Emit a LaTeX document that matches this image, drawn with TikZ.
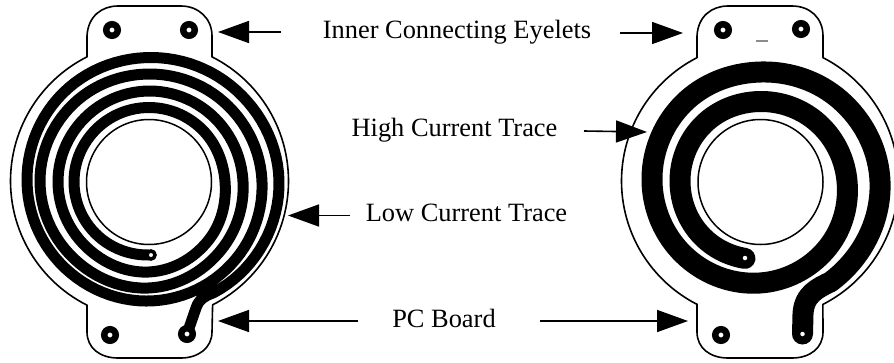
\documentclass[tikz,border=0pt]{standalone}
\usepackage{fontspec}
\setmainfont{Liberation Serif}
\usetikzlibrary{arrows.meta}
\def\ltab{{73,74,75,75,74,73.5,74,76,84,91,91,91,90,90,91,94,100,107,108,109,108,107,109,113,117,120,121,122,123,123.5,126,130,130,126.5,125}}
\def\rtab{{78,78.5,80,80,80,79.5,82,87,95,102,106,108,109,109,114,120,122.5,125,125}}
\tikzset{
  declare function={
    crom(\a,\b,\c,\d,\f)=0.5*(2*\b+(\c-\a)*\f+(2*\a-5*\b+4*\c-\d)*\f*\f+(3*\b-\a-3*\c+\d)*\f*\f*\f);
    fr(\t)=(\t-90)/45-floor((\t-90)/45);
    ix(\t)=int(floor((\t-90)/45)+1);
    lr(\t)=crom(\ltab[ix(\t)-1],\ltab[ix(\t)],\ltab[ix(\t)+1],\ltab[ix(\t)+2],fr(\t));
    rr(\t)=crom(\rtab[ix(\t)-1],\rtab[ix(\t)],\rtab[ix(\t)+1],\rtab[ix(\t)+2],fr(\t));
  },
  board/.style={draw=black,line width=1.6pt,fill=white,line join=round},
  hole/.style={circle,draw=black,fill=white,line width=6.5pt,minimum size=11.5pt,inner sep=0pt},
  smallhole/.style={circle,draw=black,fill=white,line width=3.5pt,minimum size=8pt,inner sep=0pt},
  pinhole/.style={circle,fill=white,minimum size=4.5pt,inner sep=0pt},
  boresmall/.style={draw=black,line width=1.5pt,fill=white},
  trace/.style={draw=black,line cap=round,line join=round},
  pointer/.style={draw=black,line width=1.6pt,-{Triangle[length=31pt,width=22pt]}},
  lab/.style={font=\fontsize{26.4}{30}\selectfont,inner sep=0pt,anchor=base}
}
\begin{document}
\begin{tikzpicture}[x=1pt,y=-1pt]
\useasboundingbox (0,0) rectangle (894,362);
\fill[white] (0,0) rectangle (894,362);
\clip (0,0) rectangle (894,362);
% left board
\draw[board] (87,57) -- (87,36) .. controls (88,16) and (102,6) .. (118,6) -- (181,6)
  .. controls (198,6) and (212,18) .. (212,36) -- (212,57)
  -- plot[domain=-63:63,samples=60] ({149.5+139*cos(\x)},{181+139*sin(\x)})
  -- (212,332) .. controls (212,348) and (198,358) .. (181,358) -- (118,358)
  .. controls (100,358) and (87,348) .. (87,332) -- (87,305)
  -- plot[domain=117:243,samples=60] ({149.5+139*cos(\x)},{181+139*sin(\x)}) -- cycle;
\draw[boresmall] (149,182) circle[radius=62.5pt];
\draw[trace,line width=11pt] plot[domain=90:1500,samples=400,variable=\t]
  ({149+lr(\t)*cos(\t)},{181+lr(\t)*sin(\t)})
  .. controls (205,296) and (199,299) .. (196,308) -- (187,334);
\node[hole] (la) at (112,30) {};
\node[hole] (lb) at (189,30) {};
\node[hole] (lc) at (110,335) {};
\node[hole] (ld) at (187,334) {};
\node[smallhole] (le) at (151,255) {};
% right board
\draw[board] (697,57) -- (697,36) .. controls (698,16) and (712,6) .. (728,6) -- (792,6)
  .. controls (810,6) and (823,18) .. (823,36) -- (823,57)
  -- plot[domain=-63:63,samples=60] ({760+138.5*cos(\x)},{181+138.5*sin(\x)})
  -- (823,332) .. controls (823,348) and (810,358) .. (792,358) -- (728,358)
  .. controls (710,358) and (697,348) .. (697,332) -- (697,304)
  -- plot[domain=117:243,samples=60] ({760+138.5*cos(\x)},{181+138.5*sin(\x)}) -- cycle;
\draw[boresmall] (760.5,182) circle[radius=62.5pt];
\draw[trace,line width=21pt] plot[domain=101:775,samples=250,variable=\t]
  ({760+rr(\t)*cos(\t)},{181+rr(\t)*sin(\t)})
  .. controls (818,288) and (804,294) .. (803,314) -- (802.5,334);
\node[hole] (ra) at (723,30) {};
\node[hole] (rb) at (801,29) {};
\node[hole] (rc) at (721,335) {};
\node[pinhole] (rd) at (802.5,334) {};
\node[pinhole] (re) at (745,258) {};
\fill[black!45] (756,40.3) rectangle (768,41.5);
% labels
\node[lab] (t1) at (457,38) {Inner Connecting Eyelets};
\node[lab] (t2) at (454.5,136) {High Current Trace};
\node[lab] (t3) at (466.5,221) {Low Current Trace};
\node[lab] (t4) at (444,327) {PC Board};
% arrows
\coordinate (a1) at (281,32); \coordinate (b1) at (218,32);
\coordinate (a2) at (620,33); \coordinate (b2) at (683,33);
\coordinate (a3) at (584,131); \coordinate (b3) at (647,132);
\coordinate (a4) at (350,215.5); \coordinate (b4) at (288,215.5);
\coordinate (a5) at (358,321); \coordinate (b5) at (218,321);
\coordinate (a6) at (540,321); \coordinate (b6) at (688,321);
\draw[pointer] (a1) -- (b1);
\draw[pointer] (a2) -- (b2);
\draw[pointer] (a3) -- (b3);
\draw[pointer] (a4) -- (b4);
\draw[pointer] (a5) -- (b5);
\draw[pointer] (a6) -- (b6);
\end{tikzpicture}
\end{document}
